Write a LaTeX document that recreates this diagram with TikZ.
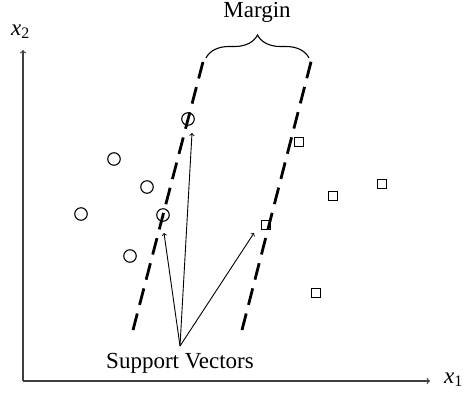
\documentclass[tikz,border=0pt]{standalone}
\usepackage{fontspec}
\setmainfont{Liberation Serif}
\usetikzlibrary{decorations.pathreplacing}
\begin{document}
\begin{tikzpicture}[x=1pt,y=-1pt,
  axis/.style={line width=1.2pt,draw=black!75,-to},
  hyper/.style={line width=2.8pt,dash pattern=on 17pt off 9pt},
  circ/.style={circle,draw,line width=1.1pt,minimum size=12.5pt,inner sep=0pt},
  sq/.style={rectangle,draw,line width=1.1pt,minimum size=9pt,inner sep=0pt},
  ptr/.style={line width=0.9pt,-{to[scale=1.3]}},
  lbl/.style={font=\fontsize{23}{27}\selectfont,inner sep=0pt}]
\useasboundingbox (0,0) rectangle (468,392);
% axes
\coordinate (O) at (23,381);
\coordinate (ytip) at (23,50);
\coordinate (xtip) at (430,381);
\draw[axis] (O) -- (ytip);
\draw[axis] (O) -- (xtip);
\node[lbl,anchor=base west] (x2) at (11,35) {\itshape x\raisebox{-0.35ex}{\upshape\fontsize{16}{16}\selectfont 2}};
\node[lbl,anchor=base west] (x1) at (444,383) {\itshape x\raisebox{-0.35ex}{\upshape\fontsize{16}{16}\selectfont 1}};
% margin lines
\coordinate (la) at (133,330);
\coordinate (lb) at (204,58);
\coordinate (ra) at (242,330);
\coordinate (rb) at (312,58);
\draw[hyper] (la) -- (lb);
\draw[hyper] (ra) -- (rb);
% brace
\coordinate (bl) at (206,58);
\coordinate (br) at (309,58);
\draw[line width=1.1pt,decorate,decoration={brace,amplitude=23pt}] (bl) -- (br);
\node[lbl] (margin) at (257,12) {Margin};
% circles
\node[circ] (c1) at (188,119) {};
\node[circ] (c2) at (114,159) {};
\node[circ] (c3) at (147,187) {};
\node[circ] (c4) at (81,214) {};
\node[circ] (c5) at (163,215) {};
\node[circ] (c6) at (130,256) {};
% squares
\node[sq] (s1) at (299,142) {};
\node[sq] (s2) at (382,184) {};
\node[sq] (s3) at (333,196) {};
\node[sq] (s4) at (266,225) {};
\node[sq] (s5) at (316,293) {};
% support vectors
\node[lbl] (sv) at (180,363) {Support Vectors};
\coordinate (apex) at (180,346);
\coordinate (t1) at (192,133);
\coordinate (t2) at (164,233);
\coordinate (t3) at (254,233);
\draw[ptr] (apex) -- (t1);
\draw[ptr] (apex) -- (t2);
\draw[ptr] (apex) -- (t3);
\end{tikzpicture}
\end{document}
